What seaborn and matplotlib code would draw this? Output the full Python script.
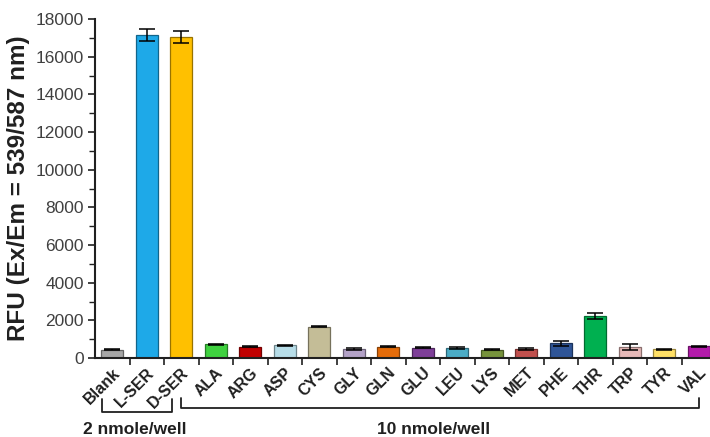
import matplotlib
matplotlib.use("Agg")
import matplotlib.pyplot as plt
import matplotlib.colors as mcolors
from matplotlib.ticker import MultipleLocator, FixedLocator
import seaborn as sns
import pandas as pd

categories = ["Blank", "L-SER", "D-SER", "ALA", "ARG", "ASP", "CYS", "GLY", "GLN",
              "GLU", "LEU", "LYS", "MET", "PHE", "THR", "TRP", "TYR", "VAL"]
values = [450, 17160, 17020, 720, 600, 680, 1660, 490, 590,
          540, 530, 450, 480, 780, 2240, 570, 460, 620]
errors = [30, 320, 320, 40, 30, 30, 40, 40, 30,
          30, 30, 25, 30, 130, 150, 170, 30, 30]
colors = ["#A6A6A6", "#1EA9E8", "#FFC000", "#3FD13F", "#C00000", "#B7DDE8", "#C4BD97",
          "#B3A2C7", "#E46C0A", "#7E3F98", "#4BACC6", "#77933C", "#C0504D", "#2F5597",
          "#00B050", "#E6B9B8", "#FFE066", "#B31BAA"]
y_ticks = [0, 2000, 4000, 6000, 8000, 10000, 12000, 14000, 16000, 18000]
group_labels = ["2 nmole/well", "10 nmole/well"]

df = pd.DataFrame({"cat": categories, "val": values})

sns.set_theme(style="white")
plt.rcParams["font.family"] = ["Liberation Sans", "DejaVu Sans"]

fig = plt.figure(figsize=(7.1, 4.37), dpi=100)
ax = fig.add_axes([95 / 710, 1 - 358 / 437, 615 / 710, (358 - 19) / 437])

sns.barplot(data=df, x="cat", y="val", hue="cat", palette=colors, legend=False,
            width=0.63, ax=ax, linewidth=0.9, saturation=1)
for p, c in zip(ax.patches, colors):
    r, g, b = mcolors.to_rgb(c)
    p.set_edgecolor((r * 0.6, g * 0.6, b * 0.6))

ax.errorbar(range(len(categories)), values, yerr=errors, fmt="none",
            ecolor="black", elinewidth=1.1, capsize=6, capthick=1.1, zorder=5)

ax.set_xlim(-0.5, -0.5 + 615 / 34.5)
ax.set_ylim(0, 18000)
ax.set_yticks(y_ticks)
ax.set_yticklabels([str(t) for t in y_ticks], fontsize=12.5, color="#404040")
ax.yaxis.set_minor_locator(MultipleLocator(1000))

ax.set_xticks(range(len(categories)))
ax.set_xticklabels(categories, rotation=45, ha="right", rotation_mode="anchor",
                   fontsize=11.5, fontweight="bold", color="#202020")
ax.xaxis.set_minor_locator(FixedLocator([i + 0.5 for i in range(len(categories) - 1)]))

ax.tick_params(axis="x", which="major", length=0, pad=5)
ax.tick_params(axis="x", which="minor", bottom=True, length=5, width=1.2, color="#202020", direction="out")
ax.tick_params(axis="y", which="major", left=True, length=5, width=1.2, color="#202020", direction="out", pad=3)
ax.tick_params(axis="y", which="minor", left=True, length=4, width=1.0, color="#202020", direction="out")

ax.set_xlabel("")
ax.set_ylabel("RFU (Ex/Em = 539/587 nm)", fontsize=17.5, fontweight="bold", color="#202020", labelpad=4)

sns.despine(ax=ax)
for s in ("left", "bottom"):
    ax.spines[s].set_color("#202020")
    ax.spines[s].set_linewidth(1.5)

# group brackets below the tick labels
trans = ax.get_xaxis_transform()
def bracket(x0, x1, ytop, ybot):
    ax.plot([x0, x0, x1, x1], [ytop, ybot, ybot, ytop], color="#202020", lw=1.3,
            transform=trans, clip_on=False)

h = 339.0
bracket(-0.3, 1.74, (358 - 399) / h, (358 - 411.5) / h)
bracket(1.99, 17.0, (358 - 398) / h, (358 - 408) / h)
ax.text(0.65, (358 - 429) / h, group_labels[0], transform=trans, ha="center", va="center",
        fontsize=12.5, fontweight="bold", color="#202020")
ax.text(9.3, (358 - 429) / h, group_labels[1], transform=trans, ha="center", va="center",
        fontsize=12.5, fontweight="bold", color="#202020")

fig.savefig("out.png", dpi=100)
